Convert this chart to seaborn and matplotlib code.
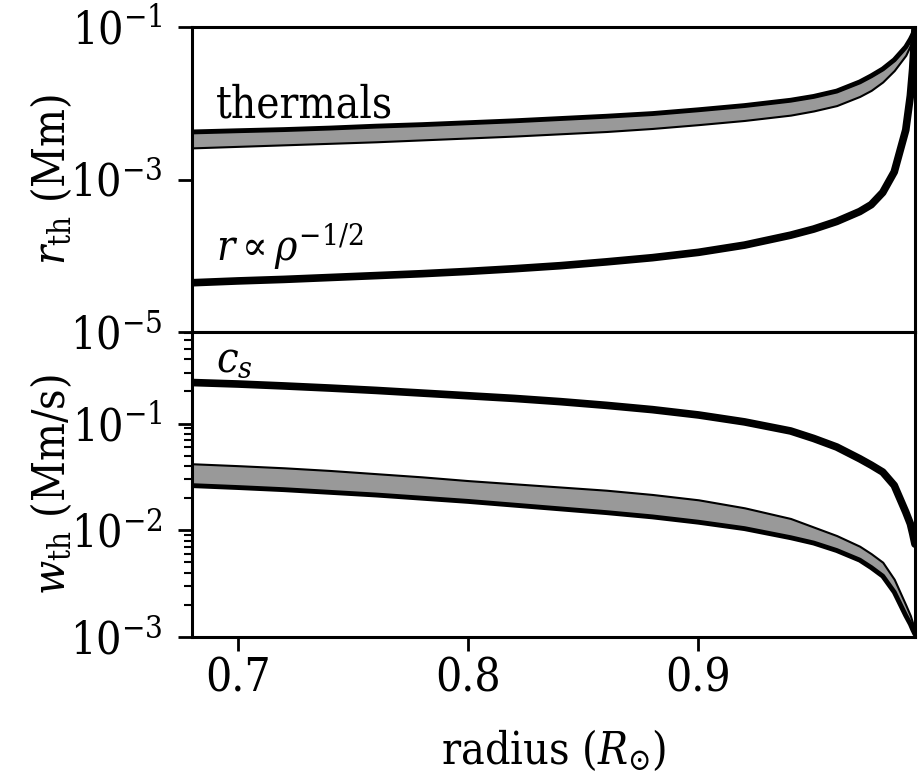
import numpy as np
import matplotlib
matplotlib.use("Agg")
import matplotlib.pyplot as plt
import matplotlib.ticker as mticker
import seaborn as sns

# radius grid (R_sun) and log10 of the curves
radius = [0.68, 0.70, 0.72, 0.74, 0.76, 0.78, 0.80, 0.82, 0.84, 0.86, 0.88,
          0.90, 0.92, 0.94, 0.95, 0.96, 0.97, 0.975, 0.98, 0.985, 0.99,
          0.992, 0.993, 0.994]

# top panel: thermal radius band and the r ~ rho^-1/2 curve (Mm)
log_rth_hi = [-2.376, -2.36, -2.345, -2.325, -2.30, -2.28, -2.255, -2.23,
              -2.20, -2.17, -2.135, -2.085, -2.03, -1.96, -1.91, -1.84,
              -1.72, -1.64, -1.55, -1.43, -1.26, -1.16, -1.10, -1.03]
log_rth_lo = [-2.585, -2.565, -2.545, -2.525, -2.505, -2.48, -2.455, -2.43,
              -2.40, -2.37, -2.33, -2.28, -2.225, -2.155, -2.10, -2.03,
              -1.91, -1.83, -1.72, -1.57, -1.37, -1.24, -1.15, -1.05]
log_rho = [-4.354, -4.33, -4.31, -4.285, -4.26, -4.235, -4.205, -4.17,
           -4.13, -4.08, -4.025, -3.955, -3.86, -3.73, -3.65, -3.55,
           -3.42, -3.33, -3.17, -2.90, -2.35, -1.90, -1.55, -1.03]

# bottom panel: sound speed and thermal velocity band (Mm/s)
log_cs = [-0.616, -0.63, -0.648, -0.668, -0.69, -0.715, -0.74, -0.765,
          -0.795, -0.83, -0.87, -0.92, -0.985, -1.07, -1.14, -1.22,
          -1.33, -1.39, -1.455, -1.58, -1.83, -1.94, -2.03, -2.13]
log_wth_hi = [-1.377, -1.395, -1.415, -1.44, -1.47, -1.50, -1.535, -1.565,
              -1.595, -1.625, -1.665, -1.715, -1.79, -1.89, -1.97, -2.05,
              -2.15, -2.22, -2.30, -2.46, -2.70, -2.80, -2.87, -2.94]
log_wth_lo = [-1.582, -1.60, -1.62, -1.645, -1.67, -1.70, -1.73, -1.765,
              -1.80, -1.835, -1.875, -1.925, -1.985, -2.07, -2.12, -2.19,
              -2.28, -2.35, -2.43, -2.58, -2.80, -2.88, -2.93, -2.975]

r = np.array(radius)
rth_hi = np.power(10.0, log_rth_hi)
rth_lo = np.power(10.0, log_rth_lo)
rho_line = np.power(10.0, log_rho)
cs = np.power(10.0, log_cs)
wth_hi = np.power(10.0, log_wth_hi)
wth_lo = np.power(10.0, log_wth_lo)

sns.set_style("ticks")
plt.rcParams['font.family'] = ['DejaVu Serif']
plt.rcParams['font.stretch'] = 'condensed'
plt.rcParams['mathtext.fontset'] = 'dejavuserif'
plt.rcParams['font.size'] = 32
plt.rcParams['axes.linewidth'] = 2.2
for key in ['text.color', 'axes.labelcolor', 'xtick.color', 'ytick.color',
            'axes.edgecolor']:
    plt.rcParams[key] = 'black'

fig, (ax1, ax2) = plt.subplots(2, 1, sharex=True, figsize=(9.18, 7.73), dpi=100)
fig.subplots_adjust(left=0.209, right=0.9967, top=0.965, bottom=0.176, hspace=0)

grey = '#999999'

# top panel
ax1.fill_between(r, rth_lo, rth_hi, facecolor=grey, edgecolor='black', linewidth=1.5)
sns.lineplot(x=r, y=rth_hi, ax=ax1, color='black', linewidth=3.5)
sns.lineplot(x=r, y=rho_line, ax=ax1, color='black', linewidth=5.5)
ax1.set_yscale('log')
ax1.set_ylim(1e-5, 1e-1)
ax1.yaxis.set_major_locator(mticker.FixedLocator([1e-5, 1e-3, 1e-1]))
ax1.yaxis.set_minor_locator(mticker.NullLocator())
ax1.set_ylabel(r"$r_{\rm th}$ (Mm)", fontsize=32, labelpad=-3)
ax1.tick_params(axis='x', bottom=False, labelbottom=False)
ax1.text(0.6905, 6.6e-3, "thermals", fontsize=31.5)
ax1.text(0.6905, 8.5e-5, r"$r \propto \rho^{-1/2}$", fontsize=30.5)

# bottom panel
ax2.fill_between(r, wth_lo, wth_hi, facecolor=grey, edgecolor='black', linewidth=1.5)
sns.lineplot(x=r, y=wth_lo, ax=ax2, color='black', linewidth=3.5)
sns.lineplot(x=r, y=cs, ax=ax2, color='black', linewidth=5.5)
ax2.set_yscale('log')
ax2.set_ylim(1e-3, 0.72)
ax2.yaxis.set_major_locator(mticker.FixedLocator([1e-3, 1e-2, 1e-1]))
ax2.yaxis.set_minor_locator(mticker.LogLocator(base=10, subs=np.arange(2, 10)))
ax2.yaxis.set_minor_formatter(mticker.NullFormatter())
ax2.set_ylabel(r"$w_{\rm th}$ (Mm/s)", fontsize=32, labelpad=-3)
ax2.text(0.6905, 0.31, r"$c_s$", fontsize=31)

ax2.set_xlim(0.68, 0.994)
ax2.set_xticks([0.7, 0.8, 0.9])
ax2.set_xlabel(r"radius ($R_{\odot}$)", fontsize=32, labelpad=19)

for ax in (ax1, ax2):
    ax.tick_params(which='major', length=10, width=2)
    ax.tick_params(which='minor', length=6, width=1.5)
    ax.tick_params(axis='y', which='major', labelsize=32, pad=11)
ax2.tick_params(axis='x', labelsize=33, pad=4)

fig.align_ylabels([ax1, ax2])
fig.savefig("out.png", dpi=100)
